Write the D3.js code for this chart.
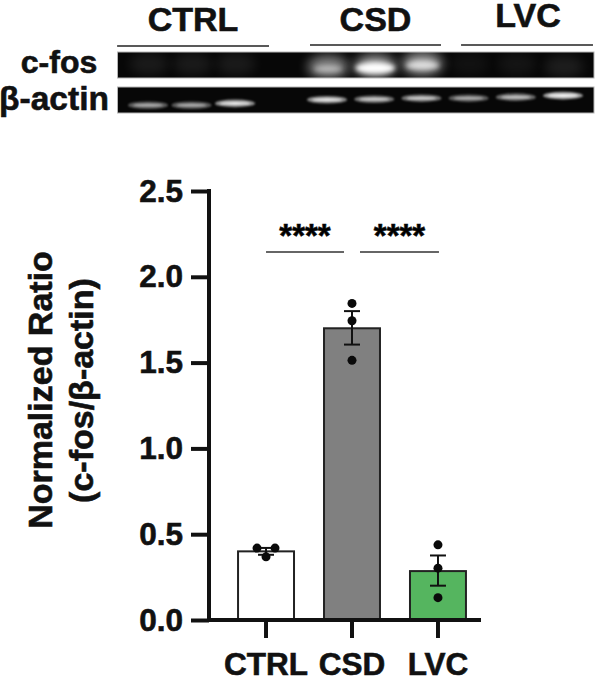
<!DOCTYPE html>
<html>
<head>
<meta charset="utf-8">
<script src="https://cdn.jsdelivr.net/npm/d3@7"></script>
<style>
  html, body { margin: 0; padding: 0; background: #fff; }
  svg { display: block; }
  text { font-family: "Liberation Sans", Arial, sans-serif; font-weight: 700; fill: #111; stroke: #111; stroke-width: 0.6px; }
</style>
</head>
<body>
<script>
// valores
const groups = ['CTRL', 'CSD', 'LVC'];
const means = [0.40, 1.70, 0.285];
const errLow = [0.38, 1.605, 0.20];
const errHigh = [0.42, 1.80, 0.376];
const pointsCtrl = [0.419, 0.419, 0.368];
const pointsCsd = [1.845, 1.744, 1.513];
const pointsLvc = [0.438, 0.302, 0.13];
const barColors = ['#ffffff', '#808080', '#55b55f'];
const yTicks = [0, 0.5, 1, 1.5, 2, 2.5];
const sigPairs = [['CTRL', 'CSD'], ['CSD', 'LVC']];

// gel: uma banda por poço
const lanes = [1, 2, 3, 4, 5, 6, 7, 8, 9];
const fosIntensity = [0.05, 0.05, 0.05, 0.42, 1, 0.68, 0.02, 0.03, 0.06];
const fosPosition = [0.5, 0.5, 0.5, 0.62, 0.58, 0.48, 0.5, 0.5, 0.6];
const actinIntensity = [0.55, 0.55, 0.9, 0.85, 0.7, 0.7, 0.55, 0.65, 1];
const actinPosition = [0.7, 0.7, 0.63, 0.49, 0.47, 0.43, 0.43, 0.39, 0.33];
const groupSpans = [[0.29, 3.37], [3.815, 6.415], [6.84, 9.635]];

const width = 595, height = 677;
const svg = d3.select('body').append('svg').attr('width', width).attr('height', height);
const defs = svg.append('defs');

[['blurHaze', 6], ['blurCore', 2.4], ['blurBand', 1.2]].forEach(function(f) {
  defs.append('filter').attr('id', f[0])
    .attr('x', '-50%').attr('y', '-100%').attr('width', '200%').attr('height', '300%')
    .append('feGaussianBlur').attr('stdDeviation', f[1]);
});

// ---- gel ----
const laneX = d3.scaleLinear().domain([1, 3, 4, 9]).range([148, 235, 327, 563]);
const fosY = d3.scaleLinear().domain([0, 1]).range([52, 78]);
const actinY = d3.scaleLinear().domain([0, 1]).range([87, 113]);

function drawGel(id, y, draw) {
  defs.append('clipPath').attr('id', id).append('rect')
    .attr('x', 117.5).attr('y', y.range()[0]).attr('width', 476.5).attr('height', y.range()[1] - y.range()[0]);
  const g = svg.append('g');
  g.append('rect')
    .attr('x', 117.5).attr('y', y.range()[0]).attr('width', 476.5).attr('height', y.range()[1] - y.range()[0])
    .attr('fill', '#070707').attr('stroke', '#b5b5b5').attr('stroke-width', 1);
  draw(g.append('g').attr('clip-path', 'url(#' + id + ')'));
}

drawGel('gelFos', fosY, function(g) {
  g.selectAll('.haze').data(lanes).enter().append('ellipse')
    .attr('cx', function(d) { return laneX(d) + 1; })
    .attr('cy', function(d, i) { return fosY(fosPosition[i]) - 1; })
    .attr('rx', 20)
    .attr('ry', 11)
    .attr('fill', '#fff')
    .attr('filter', 'url(#blurHaze)')
    .attr('opacity', function(d, i) { return Math.min(0.62, fosIntensity[i] * 1.2 + 0.02); });
  g.selectAll('.core').data(lanes).enter().append('ellipse')
    .attr('cx', function(d) { return laneX(d) + 1; })
    .attr('cy', function(d, i) { return fosY(fosPosition[i]) + 1; })
    .attr('rx', function(d, i) { return 10 + fosIntensity[i] * 10; })
    .attr('ry', function(d, i) { return 2 + fosIntensity[i] * 3.5; })
    .attr('fill', '#fff')
    .attr('filter', 'url(#blurCore)')
    .attr('opacity', function(d, i) { return fosIntensity[i] > 0.1 ? fosIntensity[i] : 0; });
});

drawGel('gelActin', actinY, function(g) {
  g.selectAll('.halo').data(lanes).enter().append('ellipse')
    .attr('cx', laneX)
    .attr('cy', function(d, i) { return actinY(actinPosition[i]); })
    .attr('rx', 20)
    .attr('ry', 3.8)
    .attr('fill', '#fff')
    .attr('filter', 'url(#blurBand)')
    .attr('opacity', function(d, i) { return actinIntensity[i] * 0.62; });
  g.selectAll('.core').data(lanes).enter().append('ellipse')
    .attr('cx', laneX)
    .attr('cy', function(d, i) { return actinY(actinPosition[i]); })
    .attr('rx', 15)
    .attr('ry', 1.4)
    .attr('fill', '#fff')
    .attr('filter', 'url(#blurBand)')
    .attr('opacity', function(d, i) { return actinIntensity[i]; });
});

// rótulos do gel
svg.selectAll('.groupLine').data(groupSpans).enter().append('line')
  .attr('x1', function(d) { return laneX(d[0]); })
  .attr('x2', function(d) { return laneX(d[1]); })
  .attr('y1', function(d, i) { return i === 0 ? 46 : 45; })
  .attr('y2', function(d, i) { return i === 0 ? 46 : 45; })
  .attr('stroke', '#222').attr('stroke-width', 1.5);

svg.selectAll('.groupLabel').data(groups).enter().append('text')
  .attr('x', function(d, i) { return [193, 375.5, 528][i]; })
  .attr('y', function(d, i) { return [31, 31, 27][i]; })
  .attr('text-anchor', 'middle').style('font-size', '34px')
  .text(function(d) { return d; });

svg.append('text').attr('x', 59).attr('y', 73).attr('text-anchor', 'middle').style('font-size', '32px').text('c-fos');
svg.append('text').attr('x', 54).attr('y', 110).attr('text-anchor', 'middle').style('font-size', '33.5px').text('β-actin');

// ---- gráfico de barras ----
const x = d3.scaleBand().domain(groups).range([223, 481]).paddingInner(0.349).paddingOuter(0.175);
const y = d3.scaleLinear().domain([0, 2.5]).range([620, 191]);

const allPoints = [pointsCtrl, pointsCsd, pointsLvc];

svg.selectAll('.bar').data(groups).enter().append('rect')
  .attr('x', function(d) { return x(d); })
  .attr('y', function(d, i) { return y(means[i]); })
  .attr('width', x.bandwidth())
  .attr('height', function(d, i) { return y(0) - y(means[i]); })
  .attr('fill', function(d, i) { return barColors[i]; })
  .attr('stroke', '#222').attr('stroke-width', 2);

const center = function(d) { return x(d) + x.bandwidth() / 2; };

svg.selectAll('.errLine').data(groups).enter().append('line')
  .attr('x1', center).attr('x2', center)
  .attr('y1', function(d, i) { return y(errLow[i]); })
  .attr('y2', function(d, i) { return y(errHigh[i]); })
  .attr('stroke', '#111').attr('stroke-width', 2);

[errLow, errHigh].forEach(function(err) {
  svg.selectAll('.cap').data(groups, function(d) { return d + err[0]; }).enter().append('line')
    .attr('x1', function(d) { return center(d) - 8; })
    .attr('x2', function(d) { return center(d) + 8; })
    .attr('y1', function(d, i) { return y(err[i]); })
    .attr('y2', function(d, i) { return y(err[i]); })
    .attr('stroke', '#111').attr('stroke-width', 2);
});

// pontos; o grupo CTRL tem os dois primeiros lado a lado
const pointOffsets = [[-9, 9, 0], [0, 0, 0], [0, 0, 0]];
groups.forEach(function(name, g) {
  svg.selectAll('.pt' + g).data(allPoints[g]).enter().append('circle')
    .attr('class', 'pt' + g)
    .attr('cx', function(d, i) { return center(name) + pointOffsets[g][i]; })
    .attr('cy', function(d) { return y(d); })
    .attr('r', 4.5)
    .attr('fill', '#0a0a0a');
});

// eixos
const yAxis = d3.axisLeft(y).tickValues(yTicks).tickFormat(d3.format('.1f')).tickSize(18).tickPadding(8);
const yG = svg.append('g').attr('transform', 'translate(209,0)').call(yAxis);
yG.select('.domain').remove();
yG.selectAll('line').attr('stroke', '#111').attr('stroke-width', 4);
yG.selectAll('text').style('font-size', '31.5px');

const xAxis = d3.axisBottom(x).tickSize(18).tickPadding(12);
const xG = svg.append('g').attr('transform', 'translate(0,620)').call(xAxis);
xG.select('.domain').remove();
xG.selectAll('line').attr('stroke', '#111').attr('stroke-width', 4);
xG.selectAll('text').style('font-size', '31.5px').attr('dy', 0).attr('y', 55);

svg.append('line').attr('x1', 209).attr('x2', 209).attr('y1', y(2.5) - 2).attr('y2', y(0) + 2)
  .attr('stroke', '#111').attr('stroke-width', 4);
svg.append('line').attr('x1', 207).attr('x2', 481).attr('y1', y(0)).attr('y2', y(0))
  .attr('stroke', '#111').attr('stroke-width', 4);

// título do eixo y
svg.append('text').attr('transform', 'translate(52,390) rotate(-90)')
  .attr('text-anchor', 'middle').style('font-size', '34px').text('Normalized Ratio');
svg.append('text').attr('transform', 'translate(93,390.5) rotate(-90)')
  .attr('text-anchor', 'middle').style('font-size', '34px').text('(c-fos/β-actin)');

// significância
const sigStart = function(d, i) { return center(d[0]) + (i === 0 ? 0 : 8); };
const sigEnd = function(d, i) { return center(d[1]) + (i === 0 ? -8 : 1); };
svg.selectAll('.sigLine').data(sigPairs).enter().append('line')
  .attr('x1', sigStart)
  .attr('x2', sigEnd)
  .attr('y1', 252).attr('y2', 252)
  .attr('stroke', '#333').attr('stroke-width', 1.5);
svg.selectAll('.sigLabel').data(sigPairs).enter().append('text')
  .attr('x', function(d, i) { return (sigStart(d, i) + sigEnd(d, i)) / 2; })
  .attr('y', 247)
  .attr('text-anchor', 'middle').style('font-size', '33px').style('fill', '#000')
  .text('****');
</script>
</body>
</html>
